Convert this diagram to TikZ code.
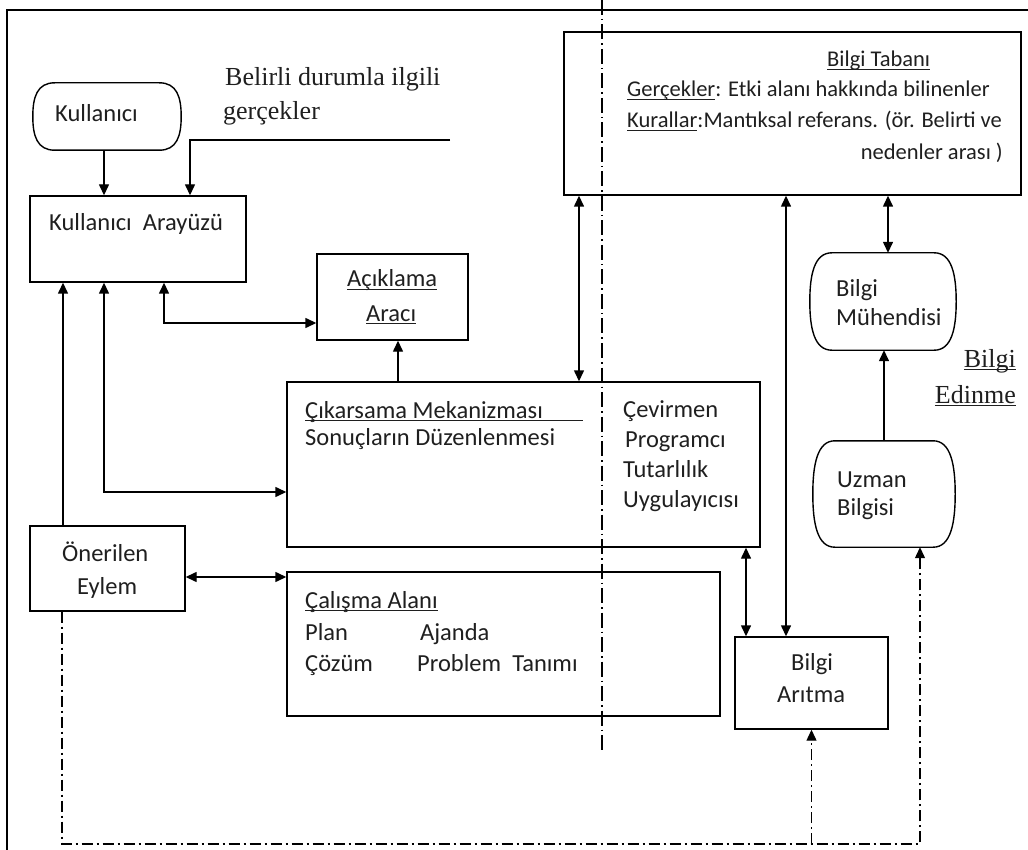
\documentclass[tikz,border=0pt]{standalone}
\usepackage{fontspec}
\setmainfont{Carlito}
\newfontfamily\serifface{Liberation Serif}
\usetikzlibrary{arrows.meta,calc}

% underline with a fixed depth: \ulw{width}{text}, \ul{text}
\newcommand\ulw[2]{\leavevmode\rlap{\rule[-3.4pt]{#1}{1.1pt}}#2}
\newcommand\ul[1]{\setbox0\hbox{#1}\ulw{\wd0}{#1}}

% barrel-shaped outline round a node: #1 node, #2 corner inset, #3 side control
\newcommand\barrel[3]{%
  \draw[boxline] ([xshift=#2]#1.north west) -- ([xshift=-#2]#1.north east)
    .. controls ([xshift=-0.2*#2]#1.north east) and ([yshift=-#3]#1.north east) .. (#1.east)
    .. controls ([yshift=#3]#1.south east) and ([xshift=-0.2*#2]#1.south east) .. ([xshift=-#2]#1.south east)
    -- ([xshift=#2]#1.south west)
    .. controls ([xshift=0.2*#2]#1.south west) and ([yshift=#3]#1.south west) .. (#1.west)
    .. controls ([yshift=-#3]#1.north west) and ([xshift=0.2*#2]#1.north west) .. cycle;}

\begin{document}
\begin{tikzpicture}[x=1pt,y=-1pt,
  boxline/.style={line width=1.4pt, draw=black},
  box/.style={boxline, inner sep=0pt},
  area/.style={inner sep=0pt},
  tip/.tip={Triangle[length=11pt,width=10pt]},
  arr/.style={line width=1.4pt, -tip},
  darr/.style={line width=1.4pt, tip-tip},
  dd/.style={line width=1.2pt, dash pattern=on 11pt off 4pt on 2pt off 4pt},
  divider/.style={line width=1.2pt, dash pattern=on 15pt off 4pt on 1.5pt off 4pt},
  txt/.style={anchor=base west, inner sep=0pt, text=black!88,
              font=\fontsize{24.5}{29}\selectfont},
  txtr/.style={txt, anchor=base east},
  small/.style={font=\fontsize{22.5}{28}\selectfont},
  serif/.style={font=\serifface\fontsize{26}{30}\selectfont}
]
\useasboundingbox (0,0) rectangle (1028,850);

% outer frame
\coordinate (fbl) at (7,850);
\coordinate (ftl) at (7,10);
\coordinate (ftr) at (1028,10);
\draw[line width=1.4pt] (fbl) -- (ftl) -- (ftr);

% boxes
\node[area, minimum width=148pt, minimum height=67pt] (kul) at (107,116.5) {};
\node[box, minimum width=216pt, minimum height=86pt] (ui) at (138,239) {};
\node[box, minimum width=151pt, minimum height=86pt] (acik) at (392.5,297) {};
\node[box, minimum width=473pt, minimum height=165pt] (cik) at (523.5,464.5) {};
\node[box, minimum width=155pt, minimum height=85pt] (oner) at (107.5,568.5) {};
\node[box, minimum width=433pt, minimum height=144pt] (cal) at (503.5,644) {};
\node[box, minimum width=153pt, minimum height=92pt] (arit) at (811.5,683) {};
\node[box, minimum width=457pt, minimum height=163pt] (taban) at (792.5,113.5) {};
\node[area, minimum width=146pt, minimum height=97pt] (muh) at (883,301.5) {};
\node[area, minimum width=142pt, minimum height=106pt] (uzm) at (884,494) {};

\barrel{kul}{22pt}{14pt}
\barrel{muh}{22pt}{22pt}
\barrel{uzm}{22pt}{24pt}

% divider
\coordinate (dvt) at (602,0);
\coordinate (dvb) at (602,753);
\draw[divider] (dvt) -- (dvb);

% texts
\node[txt] (tkul) at (55,122) {Kullanıcı};
\node[txt] (tui) at (49,231) {Kullanıcı\ \ Arayüzü};
\node[txt, serif] (tf1) at (225,86) {Belirli durumla ilgili};
\node[txt, serif] (tf2) at (223,120) {gerçekler};
\node[txt] (ta1) at (347,287) {\ul{Açıklama}};
\node[txt] (ta2) at (366,321) {\ul{Aracı}};
\node[txt] (tc1) at (305,418) {\ulw{278pt}{Çıkarsama Mekanizması}};
\node[txt] (tc2) at (305,445) {Sonuçların Düzenlenmesi};
\node[txt] (tc3) at (623,417) {Çevirmen};
\node[txt] (tc4) at (625,447) {Programcı};
\node[txt] (tc5) at (623,477) {Tutarlılık};
\node[txt] (tc6) at (623,507) {Uygulayıcısı};
\node[txt] (to1) at (62,561) {Önerilen};
\node[txt] (to2) at (77,594) {Eylem};
\node[txt] (tw1) at (305,608) {\ul{Çalışma Alanı}};
\node[txt] (tw2) at (305,640) {Plan};
\node[txt] (tw3) at (420,640) {Ajanda};
\node[txt] (tw4) at (305,671) {Çözüm};
\node[txt] (tw5) at (417,671) {Problem\ \ Tanımı};
\node[txt] (tr1) at (791,670) {Bilgi};
\node[txt] (tr2) at (777,702) {Arıtma};
\node[txt, small] (tb1) at (827,67) {\ul{Bilgi Tabanı}};
\node[txt, small] (tb2) at (627,97) {\ul{Gerçekler}: Etki alanı hakkında bilinenler};
\node[txt, small] (tb3) at (627,128) {\ul{Kurallar}:Mantıksal referans. (ör. Belirti ve};
\node[txtr, small] (tb4) at (1003,160) {nedenler arası )};
\node[txt] (tm1) at (836,297) {Bilgi};
\node[txt] (tm2) at (836,325) {Mühendisi};
\node[txt] (tu1) at (837,487) {Uzman};
\node[txt] (tu2) at (837,515) {Bilgisi};
\node[txtr, serif] (te1) at (1016,367) {\ul{Bilgi}};
\node[txtr, serif] (te2) at (1016,403) {\ul{Edinme}};

% connectors
\coordinate (kulo) at ([xshift=-3pt]kul.south);
\draw[arr] (kulo) -- (kulo |- ui.north);

\coordinate (facts) at (450,140);
\coordinate (factsin) at ([xshift=52pt]ui.north);
\draw[arr] (facts) -| (factsin);

\coordinate (onerup) at ([xshift=-44.5pt]oner.north);
\draw[arr] (onerup) -- (onerup |- ui.south);

\coordinate (uic) at ([xshift=-34pt]ui.south);
\coordinate (cikin) at ([yshift=-27.5pt]cik.west);
\draw[darr] (uic) |- (cikin);

\coordinate (uia) at ([xshift=26pt]ui.south);
\coordinate (acikin) at ([yshift=-26pt]acik.west);
\draw[darr] (uia) |- (acikin);

\coordinate (acikb) at ([xshift=5.5pt]acik.south);
\draw[arr] (cik.north -| acikb) -- (acikb);

\coordinate (onerr) at ([yshift=-8.5pt]oner.east);
\draw[darr] (onerr) -- (onerr -| cal.west);

\coordinate (tabc) at ([xshift=-213.5pt]taban.south);
\draw[darr] (tabc) -- (tabc |- cik.north);

\coordinate (taba) at ([xshift=-6.5pt]taban.south);
\draw[darr] (taba) -- (taba |- arit.north);

\coordinate (aritc) at ([xshift=-65.5pt]arit.north);
\draw[darr] (aritc |- cik.south) -- (aritc);

\coordinate (tabm) at ([xshift=95.5pt]taban.south);
\draw[darr] (tabm) -- (tabm |- muh.north);

\draw[arr] (uzm.north) -- (uzm.north |- muh.south);

% feedback of the proposed action
\coordinate (fb) at (0,844);
\coordinate (onerd) at ([xshift=-45.5pt]oner.south);
\coordinate (uzmin) at ([xshift=36pt]uzm.south);
\draw[dd, -tip] (onerd) |- (fb -| uzmin) -- (uzmin);
\draw[dd, -tip] (fb -| arit.south) -- (arit.south);
\end{tikzpicture}
\end{document}
